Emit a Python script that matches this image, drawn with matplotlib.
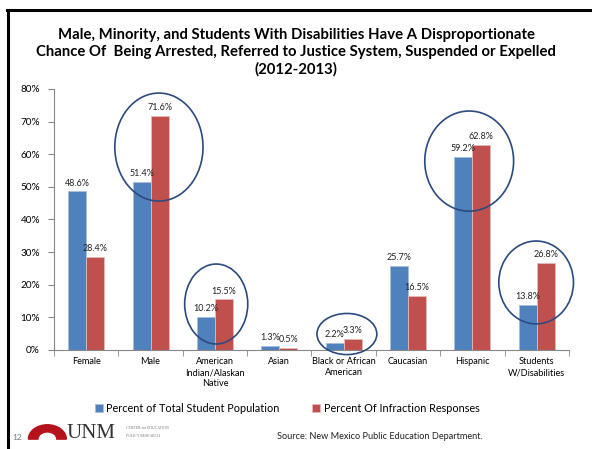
import numpy as np
import matplotlib
matplotlib.use("Agg")
import matplotlib.pyplot as plt
from matplotlib.patches import Ellipse, Wedge
from matplotlib.lines import Line2D

plt.rcParams['font.family'] = ['Lato', 'DejaVu Sans']

# data
categories = ["Female", "Male", "American\nIndian/Alaskan\nNative", "Asian",
              "Black or African\nAmerican", "Caucasian", "Hispanic",
              "Students\nW/Disabilities"]
pct_population = [48.6, 51.4, 10.2, 1.3, 2.2, 25.7, 59.2, 13.8]
pct_infraction = [28.4, 71.6, 15.5, 0.5, 3.3, 16.5, 62.8, 26.8]
series_names = ["Percent of Total Student Population", "Percent Of Infraction Responses"]

# highlighted groups: (category index, x offset, y centre, width, height) in data units
circled = [(1, 0.13, 62.2, 1.37, 33.1),
           (2, 0.02, 14.1, 0.98, 24.5),
           (4, 0.05, 4.9, 0.93, 12.6),
           (6, -0.05, 57.9, 1.38, 30.7),
           (7, -0.01, 20.7, 1.16, 25.4)]

blue = "#4F81BD"
red = "#C0504D"
navy = "#2C4A7E"

fig = plt.figure(figsize=(5.92, 4.49), dpi=100)
ax = fig.add_axes([0.0912, 0.2205, 0.8699, 0.5813])

x = np.arange(len(categories))
w = 0.28
ax.bar(x - w / 2, pct_population, w, color=blue, edgecolor="#A7BFDE", linewidth=0.6,
       label=series_names[0], zorder=2)
ax.bar(x + w / 2, pct_infraction, w, color=red, edgecolor="#E6B9B8", linewidth=0.6,
       label=series_names[1], zorder=2)

for xi, v in zip(x, pct_population):
    ax.text(xi - w / 2, v + 1.2, f"{v:.1f}%", ha="center", va="bottom", fontsize=6.5, color="#222222")
for xi, v in zip(x, pct_infraction):
    ax.text(xi + w / 2, v + 1.2, f"{v:.1f}%", ha="center", va="bottom", fontsize=6.5, color="#222222")

for idx, dx, yc, ew, eh in circled:
    ax.add_patch(Ellipse((idx + dx, yc), ew, eh, fill=False, edgecolor=navy,
                         linewidth=1.2, zorder=3, clip_on=False))

ax.set_xlim(-0.5, len(categories) - 0.5)
ax.set_ylim(0, 80)
ax.set_yticks(np.arange(0, 81, 10))
ax.set_yticklabels([f"{t}%" for t in range(0, 81, 10)], fontsize=7.2)
ax.set_xticks(x)
ax.set_xticklabels(categories, fontsize=6.6, linespacing=1.3)
ax.tick_params(axis="x", length=0, pad=5)
ax.set_xticks(np.arange(-0.5, len(categories)), minor=True)
ax.tick_params(axis="x", which="minor", length=4, color="#888888")
ax.tick_params(axis="y", length=4, color="#888888", pad=6)
for s in ["top", "right"]:
    ax.spines[s].set_visible(False)
for s in ["left", "bottom"]:
    ax.spines[s].set_color("#888888")
    ax.spines[s].set_linewidth(0.8)

# title
fig.text(0.5, 0.938, "Male, Minority, and Students With Disabilities Have A Disproportionate\n"
         "Chance Of  Being Arrested, Referred to Justice System, Suspended or Expelled\n"
         "(2012-2013)", ha="center", va="top", fontsize=10.7, fontweight="bold",
         linespacing=1.3)

# legend
fig.legend(loc="center", bbox_to_anchor=(0.485, 0.091), ncol=2, frameon=False,
           fontsize=7.8, handlelength=0.75, handleheight=0.75, handletextpad=0.3,
           columnspacing=3.0)

# slide frame
fig.add_artist(Line2D([0.013, 0.013], [0.0, 0.978], color="black", linewidth=2.2))
fig.add_artist(Line2D([0.012, 1.0], [0.977, 0.977], color="black", linewidth=2.2))

# footer
fig.text(0.020, 0.018, "12", fontsize=6, color="#777777", ha="left", va="bottom")
fig.add_artist(Wedge((0.080, 0.022), 0.032, 0, 180, width=0.016, color="#B5121B",
                     transform=fig.transFigure))
fig.text(0.112, 0.014, "UNM", fontsize=15, family="Liberation Serif", color="#333333",
         ha="left", va="bottom")
fig.text(0.212, 0.046, "CENTER for EDUCATION", fontsize=2.8, family="Liberation Serif",
         color="#777777", ha="left", va="center")
fig.text(0.212, 0.030, "POLICY RESEARCH", fontsize=2.8, family="Liberation Serif",
         color="#777777", ha="left", va="center")
fig.text(0.468, 0.028, "Source: New Mexico Public Education Department.", fontsize=6.6,
         color="#222222", ha="left", va="center")

fig.savefig("out.png", dpi=100)
